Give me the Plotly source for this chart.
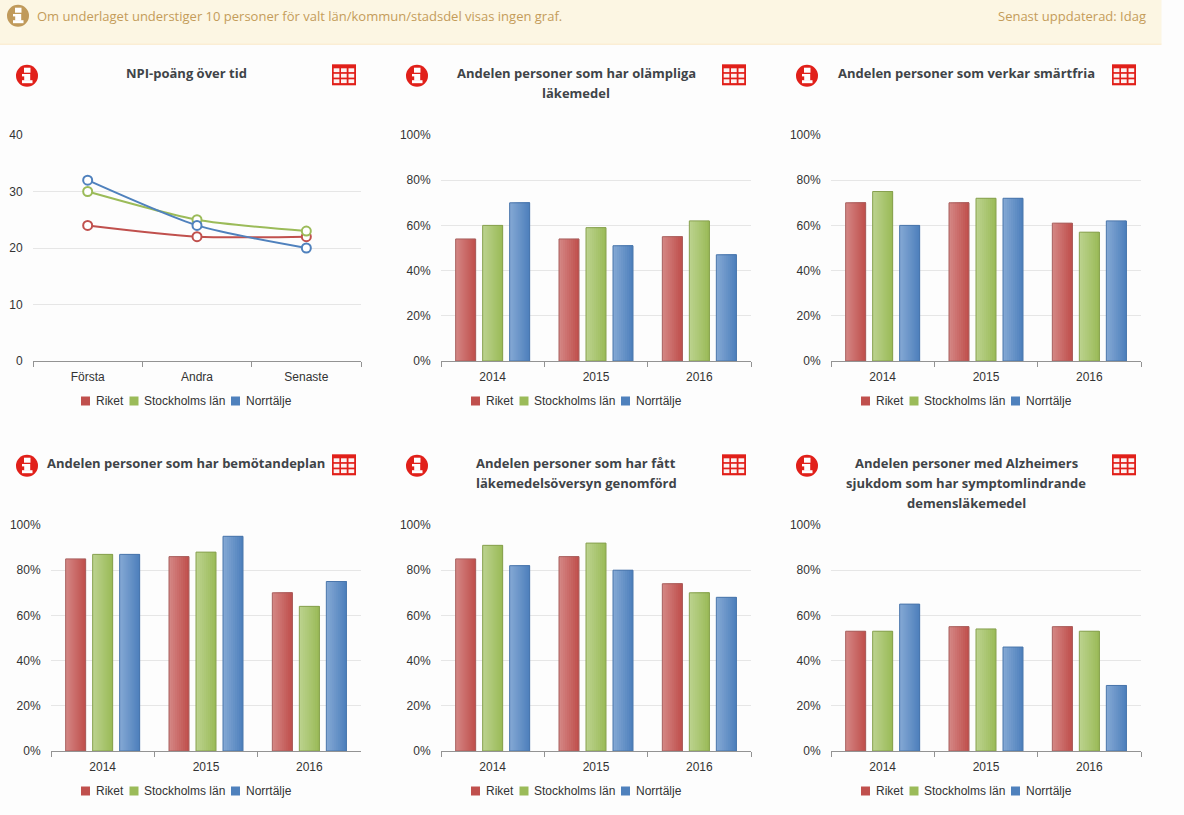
import plotly.graph_objects as go

W, H = 1184, 815

series_names = ["Riket", "Stockholms län", "Norrtälje"]
line_categories = ["Första", "Andra", "Senaste"]
year_categories = ["2014", "2015", "2016"]

npi_riket = [24, 22, 22]
npi_stockholm = [30, 25, 23]
npi_norrtalje = [32, 24, 20]

olampliga_riket = [54, 54, 55]
olampliga_stockholm = [60, 59, 62]
olampliga_norrtalje = [70, 51, 47]

smartfria_riket = [70, 70, 61]
smartfria_stockholm = [75, 72, 57]
smartfria_norrtalje = [60, 72, 62]

bemotande_riket = [85, 86, 70]
bemotande_stockholm = [87, 88, 64]
bemotande_norrtalje = [87, 95, 75]

oversyn_riket = [85, 86, 74]
oversyn_stockholm = [91, 92, 70]
oversyn_norrtalje = [82, 80, 68]

alzheimer_riket = [53, 55, 55]
alzheimer_stockholm = [53, 54, 53]
alzheimer_norrtalje = [65, 46, 29]

base_colors = ["#c0504d", "#9bbb59", "#4f81bd"]
light_colors = ["#d38583", "#bbd28d", "#83a7d3"]
border_colors = ["#a8605e", "#87a04f", "#4a76ab"]

TEXT = "#3f4448"
FONT_T = "Open Sans"
FONT_A = "Liberation Sans"
AXIS = "#939393"


def px(x):
    return x / W


def py(y):
    return 1 - y / H


def mix(a, b, t):
    a = [int(a[i:i + 2], 16) for i in (1, 3, 5)]
    b = [int(b[i:i + 2], 16) for i in (1, 3, 5)]
    return "rgb(%d,%d,%d)" % tuple(round(p + (q - p) * t) for p, q in zip(a, b))


fig = go.Figure()
shapes = []
annotations = []
layout_axes = {}


def text(x, y, s, size=13, color=TEXT, family=FONT_T, anchor="center", bold=False):
    annotations.append(dict(
        x=px(x), y=py(y), xref="paper", yref="paper", text=f"<b>{s}</b>" if bold else s,
        showarrow=False, xanchor=anchor, yanchor="middle",
        font=dict(size=size, color=color, family=family), borderpad=0, borderwidth=0))


def rect(x0, y0, x1, y1, color, line=None, lw=0):
    shapes.append(dict(type="rect", xref="paper", yref="paper", x0=px(x0), x1=px(x1),
                       y0=py(y0), y1=py(y1), fillcolor=color,
                       line=dict(color=line or color, width=lw), layer="above"))


def info_icon(cx, cy, color, r=11):
    shapes.append(dict(type="circle", xref="paper", yref="paper", x0=px(cx - r), x1=px(cx + r),
                       y0=py(cy - r), y1=py(cy + r), fillcolor=color,
                       line=dict(width=0), layer="above"))
    # the "i" glyph: dot, stem with serifs
    rect(cx - 3, cy - 8, cx + 3.5, cy - 3, "white")
    rect(cx - 2.8, cy - 1.7, cx + 3.2, cy + 5, "white")
    rect(cx - 5, cy - 1.7, cx, cy + 0.7, "white")
    rect(cx - 5, cy + 4.5, cx + 5.5, cy + 7.5, "white")


def table_icon(x0, y0):
    red = "#e1201a"
    rect(x0, y0, x0 + 24, y0 + 21, red)
    cols = [x0 + 1.7, x0 + 9, x0 + 16.5]
    rows = [y0 + 4, y0 + 9.5, y0 + 15]
    for cx in cols:
        for cy in rows:
            rect(cx, cy, cx + 5.7, cy + 3.8, "#fdf3f2")


def legend(x_shift, y):
    items = [(81, 96), (129.5, 144), (231, 246)]
    for (sx, tx), name, c in zip(items, series_names, base_colors):
        rect(sx + x_shift, y - 4.5, sx + 9 + x_shift, y + 4.5, c)
        text(tx + x_shift, y, name, size=12, color="#333333", family=FONT_A, anchor="left")


def setup_axes(idx, x0, x1, ytop, ybot, ymax, dtick, suffix, cats):
    layout_axes[f"xaxis{idx}"] = dict(
        domain=[px(x0), px(x1)], anchor=f"y{idx}", type="category", categoryorder="array",
        categoryarray=cats, range=[-0.5, 2.5], showgrid=False, showline=True,
        linecolor=AXIS, linewidth=1, ticks="outside", tickson="boundaries", ticklen=5,
        tickcolor=AXIS, tickwidth=1, automargin=False, ticklabelstandoff=5,
        tickfont=dict(family=FONT_A, size=12, color="#333333"), zeroline=False, fixedrange=True)
    layout_axes[f"yaxis{idx}"] = dict(
        domain=[py(ybot), py(ytop)], anchor=f"x{idx}", range=[0, ymax], dtick=dtick,
        ticksuffix=suffix, showgrid=True, gridcolor="#e6e6e6", gridwidth=1, zeroline=False,
        showline=False, ticks="outside", ticklen=7, tickcolor="rgba(0,0,0,0)", automargin=False,
        tickfont=dict(family=FONT_A, size=12, color="#333333"), fixedrange=True)


# ---- line panel
setup_axes(1, 33, 361, 135, 361, 40, 10, "", line_categories)
for name, vals, col in zip(series_names, [npi_riket, npi_stockholm, npi_norrtalje], base_colors):
    fig.add_trace(go.Scatter(
        x=line_categories, y=vals, name=name, mode="lines+markers", xaxis="x", yaxis="y",
        line=dict(color=col, width=2, shape="spline", smoothing=0.7),
        marker=dict(size=9, color="white", line=dict(color=col, width=2)),
        cliponaxis=False, showlegend=False))

# ---- bar panels
bar_panels = [
    (2, 441, 751, 135, 361, [olampliga_riket, olampliga_stockholm, olampliga_norrtalje]),
    (3, 831, 1141, 135, 361, [smartfria_riket, smartfria_stockholm, smartfria_norrtalje]),
    (4, 51, 361, 525, 751, [bemotande_riket, bemotande_stockholm, bemotande_norrtalje]),
    (5, 441, 751, 525, 751, [oversyn_riket, oversyn_stockholm, oversyn_norrtalje]),
    (6, 831, 1141, 525, 751, [alzheimer_riket, alzheimer_stockholm, alzheimer_norrtalje]),
]
STEPS = 10
for idx, x0, x1, yt, yb, groups in bar_panels:
    setup_axes(idx, x0, x1, yt, yb, 100, 20, "%", year_categories)
    unit = (x1 - x0) / 3
    bw = 20 / unit
    gap = 27 / unit
    for s, vals in enumerate(groups):
        left = (s - 1) * gap - bw / 2
        for i in range(STEPS):
            t = i / (STEPS - 1)
            off = left + bw * i / STEPS
            fig.add_trace(go.Bar(
                x=year_categories, y=vals, name=series_names[s], xaxis=f"x{idx}", yaxis=f"y{idx}",
                offset=off, width=bw - bw * i / STEPS,
                marker=dict(color=mix(light_colors[s], base_colors[s], t), line=dict(width=0)),
                showlegend=False))
        fig.add_trace(go.Bar(
            x=year_categories, y=vals, name=series_names[s], xaxis=f"x{idx}", yaxis=f"y{idx}",
            offset=left, width=bw,
            marker=dict(color="rgba(0,0,0,0)", line=dict(width=1, color=border_colors[s])),
            showlegend=False))

# ---- banner
rect(0, 0, 1161.5, 44, "#fcf6e3")
rect(0, 43.5, 1161.5, 45, "#fbeed5")
info_icon(18, 15.7, "#c09a5b", r=11)
text(37, 16, "Om underlaget understiger 10 personer för valt län/kommun/stadsdel visas ingen graf.",
     size=13, color="#c49c5a", anchor="left")
text(1145.5, 16, "Senast uppdaterad: Idag", size=13, color="#c49c5a", anchor="right")

# ---- titles, icons, legends
titles = [
    (186, 73, ["NPI-poäng över tid"]),
    (576, 73, ["Andelen personer som har olämpliga", "läkemedel"]),
    (966, 73, ["Andelen personer som verkar smärtfria"]),
    (186, 463, ["Andelen personer som har bemötandeplan"]),
    (576, 463, ["Andelen personer som har fått", "läkemedelsöversyn genomförd"]),
    (966, 463, ["Andelen personer med Alzheimers", "sjukdom som har symptomlindrande", "demensläkemedel"]),
]
for cx, cy, lines in titles:
    for j, ln in enumerate(lines):
        text(cx, cy + j * 20, ln, size=13, bold=True)

for col_shift in (0, 390, 780):
    for row_shift in (0, 390):
        info_icon(27 + col_shift, 75.7 + row_shift, "#e1201a")
        table_icon(332 + col_shift, 64.3 + row_shift)
        legend(col_shift, 401 + row_shift)

fig.update_layout(
    template="none",
    width=W, height=H, margin=dict(l=0, r=0, t=0, b=0, autoexpand=False), autosize=False,
    paper_bgcolor="#fdfdfd", plot_bgcolor="rgba(0,0,0,0)", barmode="overlay",
    showlegend=False, shapes=shapes, annotations=annotations, **layout_axes)

fig.write_html("out.html", config={"displayModeBar": False},
               post_script="document.body.style.margin='0';")
